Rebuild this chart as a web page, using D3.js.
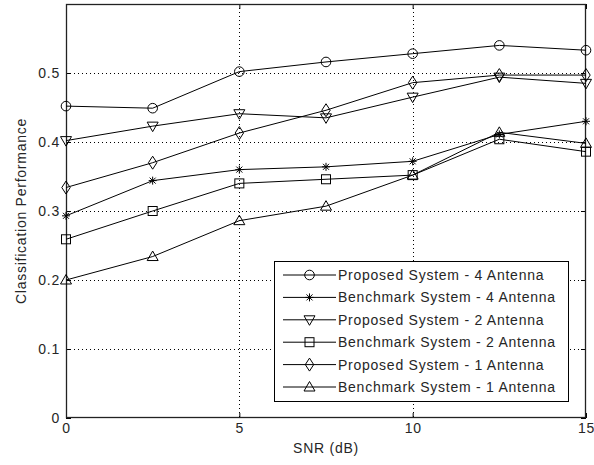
<!DOCTYPE html>
<html>
<head>
<meta charset="utf-8">
<script src="https://cdn.jsdelivr.net/npm/d3@7"></script>
<style>
  html, body { margin: 0; padding: 0; background: #fff; }
  svg { display: block; font-family: "Liberation Sans", Arial, sans-serif; }
</style>
</head>
<body>
<svg id="chart" width="594" height="465"></svg>
<script>
// SNR sweep (dB)
const snr = [0, 2.5, 5, 7.5, 10, 12.5, 15];

// Classification performance per system / antenna count
const proposed4  = [0.452, 0.449, 0.502, 0.516, 0.528, 0.540, 0.533];
const benchmark4 = [0.293, 0.344, 0.360, 0.364, 0.372, 0.411, 0.430];
const proposed2  = [0.402, 0.423, 0.441, 0.435, 0.465, 0.494, 0.485];
const benchmark2 = [0.259, 0.300, 0.340, 0.346, 0.352, 0.404, 0.386];
const proposed1  = [0.334, 0.370, 0.413, 0.446, 0.486, 0.497, 0.497];
const benchmark1 = [0.200, 0.234, 0.286, 0.307, 0.352, 0.414, 0.398];

const seriesNames = [
  "Proposed System - 4 Antenna",
  "Benchmark System - 4 Antenna",
  "Proposed System - 2 Antenna",
  "Benchmark System - 2 Antenna",
  "Proposed System - 1 Antenna",
  "Benchmark System - 1 Antenna"
];
const seriesMarkers = ["circle", "star", "triangleDown", "square", "diamond", "triangleUp"];
const seriesValues = [proposed4, benchmark4, proposed2, benchmark2, proposed1, benchmark1];

const xTicks = [0, 5, 10, 15];
const yTicks = [0, 0.1, 0.2, 0.3, 0.4, 0.5];

const svg = d3.select("#chart");
const plotL = 66, plotR = 586, plotT = 4, plotB = 418;

const x = d3.scaleLinear().domain([0, 15]).range([plotL, plotR]);
const y = d3.scaleLinear().domain([0, 0.6]).range([plotB, plotT]);

const ink = "#000";
const textInk = "#262626";
const fontSize = 14;
const spacing = "0.75px";

// grid
const grid = svg.append("g");
grid.selectAll("line.gx").data(xTicks.slice(1, -1)).join("line")
  .attr("x1", d => Math.round(x(d)) + 0.5).attr("x2", d => Math.round(x(d)) + 0.5)
  .attr("y1", plotT).attr("y2", plotB)
  .attr("stroke", ink).attr("stroke-width", 1).attr("stroke-dasharray", "1,3");
grid.selectAll("line.gy").data(yTicks.slice(1)).join("line")
  .attr("x1", plotL).attr("x2", plotR)
  .attr("y1", d => Math.round(y(d)) + 0.5).attr("y2", d => Math.round(y(d)) + 0.5)
  .attr("stroke", ink).attr("stroke-width", 1).attr("stroke-dasharray", "1,3");

// axes: ticks inward on all four sides
const tickLen = 5;
const axB = d3.axisBottom(x).tickValues(xTicks).tickSizeInner(-tickLen).tickSizeOuter(0).tickPadding(5).tickFormat(d3.format("d"));
const axT = d3.axisTop(x).tickValues(xTicks).tickSizeInner(-tickLen).tickSizeOuter(0).tickFormat("");
const axL = d3.axisLeft(y).tickValues(yTicks).tickSizeInner(-tickLen).tickSizeOuter(0).tickPadding(6).tickFormat(d => d === 0 ? "0" : d3.format(".1f")(d));
const axR = d3.axisRight(y).tickValues(yTicks).tickSizeInner(-tickLen).tickSizeOuter(0).tickFormat("");

function styleAxis(g) {
  g.select(".domain").remove();
  g.selectAll(".tick line").attr("stroke", ink);
  g.selectAll(".tick text").attr("fill", textInk).attr("font-size", fontSize)
    .attr("font-family", "Liberation Sans, Arial, sans-serif").style("letter-spacing", spacing);
}
svg.append("g").attr("transform", `translate(0,${plotB})`).call(axB).call(styleAxis);
svg.append("g").attr("transform", `translate(0,${plotT})`).call(axT).call(styleAxis);
svg.append("g").attr("transform", `translate(${plotL},0)`).call(axL).call(styleAxis);
svg.append("g").attr("transform", `translate(${plotR},0)`).call(axR).call(styleAxis);

// box
svg.append("rect").attr("x", plotL + 0.5).attr("y", plotT + 0.5)
  .attr("width", plotR - plotL - 1).attr("height", plotB - plotT - 1)
  .attr("fill", "none").attr("stroke", "#222").attr("stroke-width", 1.3);

// axis titles
svg.append("text").attr("x", (plotL + plotR) / 2).attr("y", 453)
  .attr("text-anchor", "middle").attr("font-size", fontSize).attr("fill", textInk)
  .style("letter-spacing", spacing).text("SNR (dB)");
svg.append("text").attr("transform", `translate(26,${(plotT + plotB) / 2}) rotate(-90)`)
  .attr("text-anchor", "middle").attr("font-size", fontSize).attr("fill", textInk)
  .style("letter-spacing", spacing).text("Classification Performance");

// marker drawing
function drawMarker(g, kind, cx, cy) {
  const s = g.append("g").attr("transform", `translate(${cx},${cy})`);
  const st = sel => sel.attr("fill", "none").attr("stroke", ink).attr("stroke-width", 1);
  if (kind === "circle") st(s.append("circle").attr("r", 4.8));
  else if (kind === "square") st(s.append("rect").attr("x", -4.5).attr("y", -4.5).attr("width", 9).attr("height", 9));
  else if (kind === "triangleDown") st(s.append("path").attr("d", "M-5.5,-4L5.5,-4L0,5.5Z"));
  else if (kind === "triangleUp") st(s.append("path").attr("d", "M-5.5,4L5.5,4L0,-5.5Z"));
  else if (kind === "diamond") st(s.append("path").attr("d", "M0,-6.5L4.2,0L0,6.5L-4.2,0Z"));
  else if (kind === "star") {
    st(s.append("path").attr("d", "M0,-4L0,4M-4,0L4,0M-3,-3L3,3M-3,3L3,-3").attr("stroke-width", 1.2));
  }
}

// series
const line = d3.line().x((d, i) => x(snr[i])).y(d => y(d));
const plot = svg.append("g");
seriesValues.forEach((vals, k) => {
  plot.append("path").datum(vals).attr("d", line)
    .attr("fill", "none").attr("stroke", ink).attr("stroke-width", 1);
  vals.forEach((v, i) => drawMarker(plot, seriesMarkers[k], x(snr[i]), y(v)));
});

// legend
const lg = svg.append("g");
const lx = 274, ly = 261, lw = 294, lh = 140;
lg.append("rect").attr("x", lx + 0.5).attr("y", ly + 0.5).attr("width", lw).attr("height", lh)
  .attr("fill", "#fff").attr("stroke", ink).attr("stroke-width", 1);
seriesNames.forEach((name, k) => {
  const yy = 275 + k * 22.4;
  lg.append("line").attr("x1", 283).attr("x2", 336).attr("y1", yy).attr("y2", yy)
    .attr("stroke", ink).attr("stroke-width", 1);
  drawMarker(lg, seriesMarkers[k], 309.5, yy);
  lg.append("text").attr("x", 338).attr("y", yy + 5).attr("font-size", fontSize)
    .attr("fill", textInk).style("letter-spacing", spacing).text(name);
});
</script>
</body>
</html>
